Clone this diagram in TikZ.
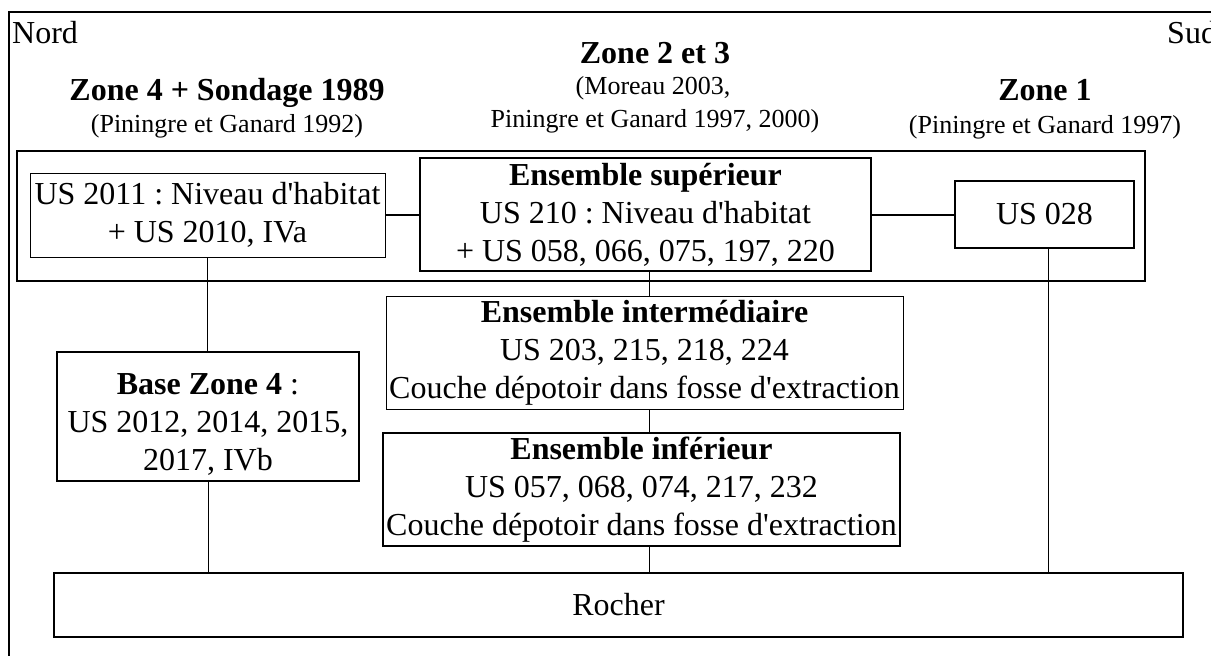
\documentclass[tikz,border=0pt]{standalone}
\usepackage{fontspec}
\setmainfont{Liberation Serif}[Ligatures=TeXOff]
\frenchspacing
\newcommand\bodyfnt{\fontsize{32}{38}\selectfont}
\newcommand\smallfnt{\fontsize{26}{32}\selectfont}
\tikzset{
  box/.style={draw, inner sep=0pt, align=center, font=\bodyfnt},
  head/.style={inner sep=0pt, anchor=base, font=\bodyfnt\bfseries},
  sub/.style={inner sep=0pt, anchor=base, font=\smallfnt},
  side/.style={inner sep=0pt, anchor=base west, font=\bodyfnt},
  link/.style={line width=1pt},
  hlink/.style={line width=2pt}
}
\begin{document}
\begin{tikzpicture}[x=1pt,y=-1pt]
\useasboundingbox (0,0) rectangle (1211,656);
\clip (0,0) rectangle (1211,656);
\fill[white] (0,0) rectangle (1211,656);
% outer frame (cut by the page on the right and at the bottom)
\coordinate (fa) at (9,700);
\coordinate (fb) at (9,12);
\coordinate (fc) at (1300,12);
\draw[line width=2pt] (fa) -- (fb) -- (fc);
% side labels
\node[side] (nord) at (12,43) {Nord};
\node[side] (sud) at (1167,43) {Sud};
% headers
\node[head] (z4) at (227,100) {Zone 4 + Sondage 1989};
\node[sub] (z4s) at (227,132) {(Piningre et Ganard 1992)};
\node[head] (z23) at (655,63) {Zone 2 et 3};
\node[sub] (z23a) at (653,94) {(Moreau 2003,};
\node[sub] (z23b) at (655,127) {Piningre et Ganard 1997, 2000)};
\node[head] (z1) at (1045,100) {Zone 1};
\node[sub] (z1s) at (1045,133) {(Piningre et Ganard 1997)};
% group box
\node[draw, line width=2pt, minimum width=1128pt, minimum height=130pt, inner sep=0pt] (grp) at (581,216) {};
% boxes
\node[box, line width=1pt, minimum width=355pt, minimum height=84pt] (us2011) at (207.5,215)
  {US 2011 : Niveau d'habitat\\+ US 2010, IVa};
\node[box, line width=1.5pt, minimum width=451pt, minimum height=113pt] (enssup) at (645.5,214.5)
  {\textbf{Ensemble supérieur}\\US 210 : Niveau d'habitat\\+ US 058, 066, 075, 197, 220};
\node[box, line width=2.5pt, minimum width=179pt, minimum height=67pt] (us028) at (1044.5,214.5)
  {US 028};
\node[box, line width=1.5pt, minimum width=302pt, minimum height=129pt] (base) at (208,416.5)
  {\rule{0pt}{36pt}\textbf{Base Zone 4} :\\US 2012, 2014, 2015,\\2017, IVb};
\node[box, line width=1pt, minimum width=517pt, minimum height=113pt] (inter) at (644.5,352.5)
  {\textbf{Ensemble intermédiaire}\\US 203, 215, 218, 224\\Couche dépotoir dans fosse d'extraction};
\node[box, line width=1.5pt, minimum width=517pt, minimum height=113pt] (inf) at (641.5,489.5)
  {\textbf{Ensemble inférieur}\\US 057, 068, 074, 217, 232\\Couche dépotoir dans fosse d'extraction};
\node[box, line width=2.5pt, minimum width=1129pt, minimum height=64pt] (rocher) at (618.5,605)
  {Rocher};
% connectors
\coordinate (cx) at (649,0);
\coordinate (cz) at (1048,0);
\draw[hlink] (us2011.east) -- (enssup.west |- us2011.east);
\draw[hlink] (enssup.east |- us028.west) -- (us028.west);
\draw[link] (us2011.south) -- (us2011.south |- base.north);
\draw[link] (base.south) -- (base.south |- rocher.north);
\draw[link] (enssup.south -| cx) -- (inter.north -| cx);
\draw[link] (inter.south -| cx) -- (inf.north -| cx);
\draw[link] (inf.south -| cx) -- (rocher.north -| cx);
\draw[link] (us028.south -| cz) -- (rocher.north -| cz);
\end{tikzpicture}
\end{document}
